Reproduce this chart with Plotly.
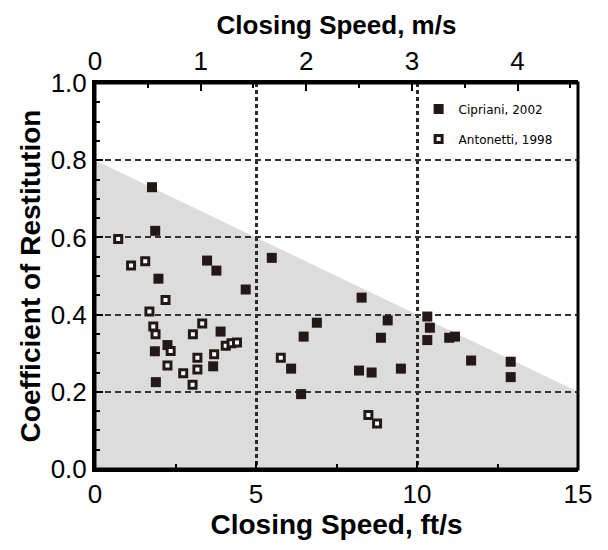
import plotly.graph_objects as go

# ---- data ----
cipriani_x = [1.77, 1.87, 1.97, 3.48, 3.77, 4.68, 3.90, 2.25, 1.86, 3.67, 1.89,
              5.49, 8.28, 6.89, 6.48, 9.09, 8.88, 6.09, 8.20, 8.59, 9.50, 6.40,
              10.32, 10.40, 10.32, 11.00, 11.18, 11.68, 12.91, 12.91]
cipriani_y = [0.730, 0.617, 0.493, 0.540, 0.514, 0.465, 0.356, 0.321, 0.305, 0.266, 0.225,
              0.547, 0.444, 0.379, 0.343, 0.385, 0.340, 0.260, 0.255, 0.250, 0.260, 0.194,
              0.395, 0.366, 0.334, 0.340, 0.343, 0.281, 0.278, 0.238]

antonetti_x = [0.72, 1.12, 1.56, 2.19, 1.69, 1.81, 1.88, 3.33, 3.04, 2.35, 4.06,
               4.24, 4.41, 3.70, 3.18, 3.18, 2.25, 2.74, 3.03, 5.77, 8.49, 8.76]
antonetti_y = [0.596, 0.527, 0.538, 0.438, 0.408, 0.369, 0.349, 0.377, 0.349, 0.306, 0.319,
               0.326, 0.328, 0.297, 0.288, 0.258, 0.268, 0.248, 0.218, 0.288, 0.140, 0.118]

region_x = [0, 15, 15, 0]
region_y = [0.8, 0.2, 0.0, 0.0]

FT_PER_M = 3.2808
x_range_ft = [0, 15]
y_range = [0, 1.0]

DARK = "#231815"
FONT = "Liberation Sans Narrow, Arial Narrow, Liberation Sans, sans-serif"
TFONT = "Liberation Sans, Arial, sans-serif"

fig = go.Figure()

path = "M " + " L ".join(f"{x},{y}" for x, y in zip(region_x, region_y)) + " Z"
fig.add_shape(type="path", path=path, xref="x", yref="y",
              fillcolor="#dcdcdc", line=dict(width=0), layer="below")
# plot frame
fig.add_shape(type="rect", xref="paper", yref="paper", x0=0, x1=1, y0=0, y1=1,
              line=dict(color="black", width=3), fillcolor="rgba(0,0,0,0)", layer="above")

fig.add_trace(go.Scatter(
    x=cipriani_x, y=cipriani_y, mode="markers", name="Cipriani, 2002",
    legendgroup="a",
    marker=dict(symbol="square", size=10, color=DARK, line=dict(width=0))))
fig.add_trace(go.Scatter(
    x=antonetti_x, y=antonetti_y, mode="markers", name="Antonetti, 1998",
    legendgroup="b",
    marker=dict(symbol="square", size=7, color="white", line=dict(width=3, color=DARK))))

# invisible trace for top axis
fig.add_trace(go.Scatter(x=[0, 15 / FT_PER_M], y=[0, 0], xaxis="x2", mode="markers",
                         marker=dict(opacity=0), showlegend=False, hoverinfo="skip"))

axis_common = dict(showline=True, linecolor="black", linewidth=3,
                   ticks="inside", tickcolor="black", tickwidth=2, ticklen=8,
                   zeroline=False, tickfont=dict(family=FONT, size=26, color="black"))

fig.update_layout(
    width=608, height=550,
    margin=dict(l=95, r=30, t=83, b=81),
    paper_bgcolor="white", plot_bgcolor="white",
    font=dict(family=TFONT, color="black"),
    xaxis=dict(range=x_range_ft, tickvals=[0, 5, 10, 15], **axis_common,
               showgrid=True, gridcolor="#2a2a2a", gridwidth=2.5, griddash="4px,3px",
               minor=dict(tickvals=[2.5, 7.5, 12.5], ticks="inside", ticklen=5,
                          tickwidth=2, tickcolor="black", showgrid=False),
               title=dict(text="<b>Closing Speed, ft/s</b>",
                          font=dict(family=TFONT, size=28), standoff=2)),
    xaxis2=dict(range=[0, 15 / FT_PER_M], overlaying="x", side="top",
                tickvals=[0, 1, 2, 3, 4], showgrid=False, **axis_common,
                minor=dict(tickvals=[0.5, 1.5, 2.5, 3.5, 4.5], ticks="inside", ticklen=5,
                           tickwidth=2, tickcolor="black", showgrid=False),
                title=dict(text="<b>Closing Speed, m/s</b>",
                           font=dict(family=TFONT, size=26), standoff=4)),
    yaxis=dict(range=y_range, tickvals=[0, 0.2, 0.4, 0.6, 0.8, 1.0],
               ticktext=["0.0", "0.2", "0.4", "0.6", "0.8", "1.0"], **axis_common,
               showgrid=True, gridcolor="#333333", gridwidth=2, griddash="6px,4px",
               minor=dict(dtick=0.05, ticks="inside", ticklen=5, tickwidth=2,
                          tickcolor="black", showgrid=False),
               title=dict(text="<b>Coefficient of Restitution</b>",
                          font=dict(family=TFONT, size=28), standoff=2)),
    legend=dict(x=0.67, y=0.97, xanchor="left", yanchor="top",
                bgcolor="rgba(0,0,0,0)", tracegroupgap=11,
                font=dict(family="DejaVu Sans, sans-serif", size=12, color="black")),
)

fig.write_html("out.html")
